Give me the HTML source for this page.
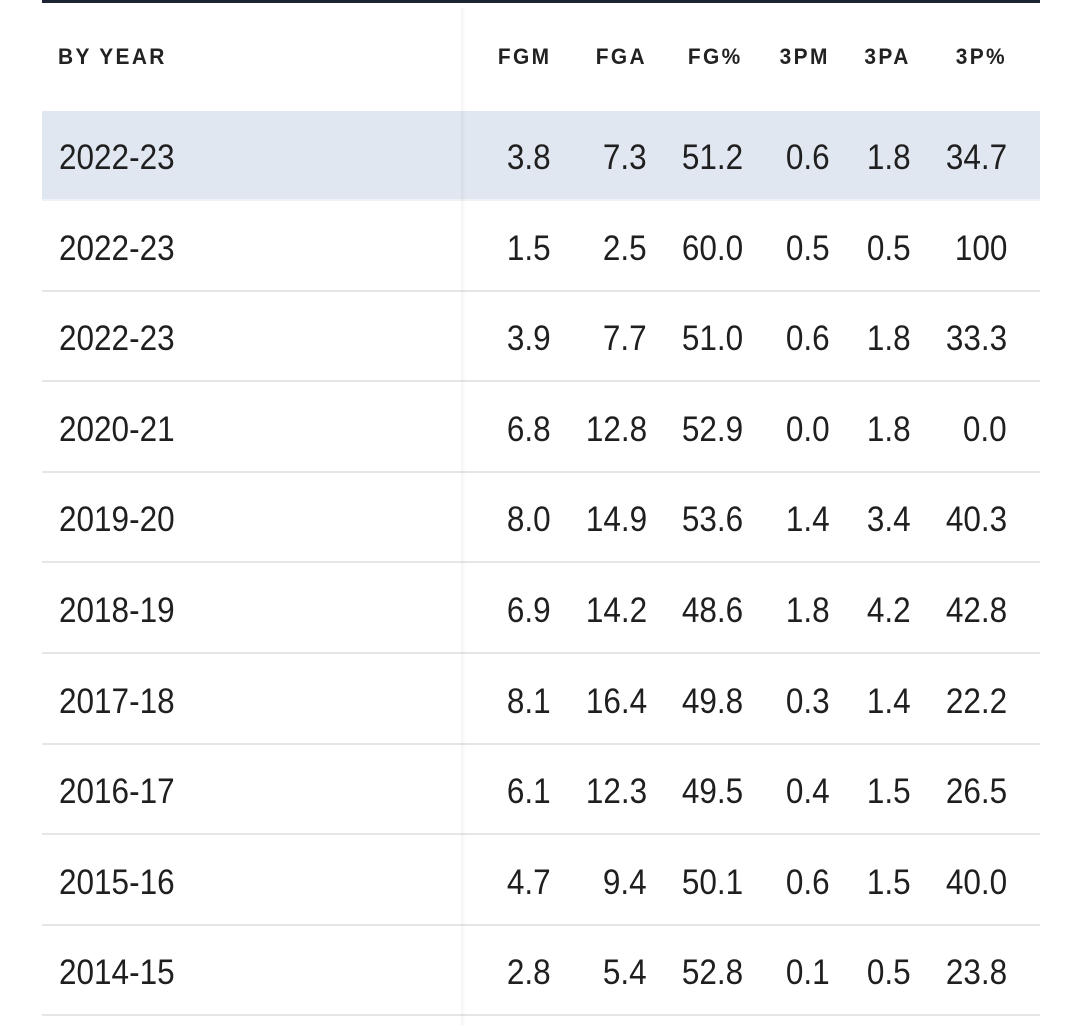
<!DOCTYPE html>
<html><head><meta charset="utf-8"><style>
body{margin:0;width:1080px;height:1025px;background:#fff;overflow:hidden;position:relative;font-family:"Liberation Sans",sans-serif;color:#1f1f1f}
.topline{position:absolute;left:42px;top:0;width:998px;height:3px;background:#1c2433}
.row{position:absolute;left:42px;width:998px;height:90px;border-bottom:2px solid #e6e6e6;box-sizing:border-box}
.row.hl{background:#e0e7f0;border-bottom-color:#eef1f5}
.c{position:absolute;top:2px;line-height:90px;font-size:35px;text-align:right;transform:scaleX(0.9);transform-origin:right center}
.h{position:absolute;font-weight:bold;font-size:22px;letter-spacing:2.5px;top:44px;text-align:right;color:#222;transform:scaleX(0.95);transform-origin:right center}
.shadow{position:absolute;left:461px;top:8px;width:5px;height:1017px;background:linear-gradient(90deg,rgba(0,0,0,0.05),rgba(0,0,0,0.02),rgba(0,0,0,0))}
</style></head><body>
<div class="topline"></div>
<div id="t"></div>
<div class="shadow"></div>
<script>
const seasons=["2022-23","2022-23","2022-23","2020-21","2019-20","2018-19","2017-18","2016-17","2015-16","2014-15"];
const fgm=["3.8","1.5","3.9","6.8","8.0","6.9","8.1","6.1","4.7","2.8"];
const fga=["7.3","2.5","7.7","12.8","14.9","14.2","16.4","12.3","9.4","5.4"];
const fgp=["51.2","60.0","51.0","52.9","53.6","48.6","49.8","49.5","50.1","52.8"];
const tpm=["0.6","0.5","0.6","0.0","1.4","1.8","0.3","0.4","0.6","0.1"];
const tpa=["1.8","0.5","1.8","1.8","3.4","4.2","1.4","1.5","1.5","0.5"];
const tpp=["34.7","100","33.3","0.0","40.3","42.8","22.2","26.5","40.0","23.8"];
const headers=["FGM","FGA","FG%","3PM","3PA","3P%"];
const cols=[fgm,fga,fgp,tpm,tpa,tpp];
const rights=[551,647,743,830,911,1007];
const t=document.getElementById('t');
const hd=document.createElement('div');


hd.innerHTML='<div class="h" style="left:58px;text-align:left;transform-origin:left center">BY YEAR</div>';
headers.forEach((h,i)=>{const d=document.createElement('div');d.className='h';d.textContent=h;d.style.right=(1080-rights[i])+'px';


hd.appendChild(d);});
t.appendChild(hd);
seasons.forEach((s,r)=>{const row=document.createElement('div');row.className='row'+(r==0?' hl':'');row.style.top=(111+r*90.6)+'px';


const y=document.createElement('div');y.className='c';y.style.left='17px';y.style.textAlign='left';y.style.transformOrigin='left center';y.textContent=s;


row.appendChild(y);
cols.forEach((c,i)=>{const d=document.createElement('div');d.className='c';d.textContent=c[r];d.style.right=(1040-rights[i])+'px';


row.appendChild(d);});
t.appendChild(row);});
</script>
</body></html>
